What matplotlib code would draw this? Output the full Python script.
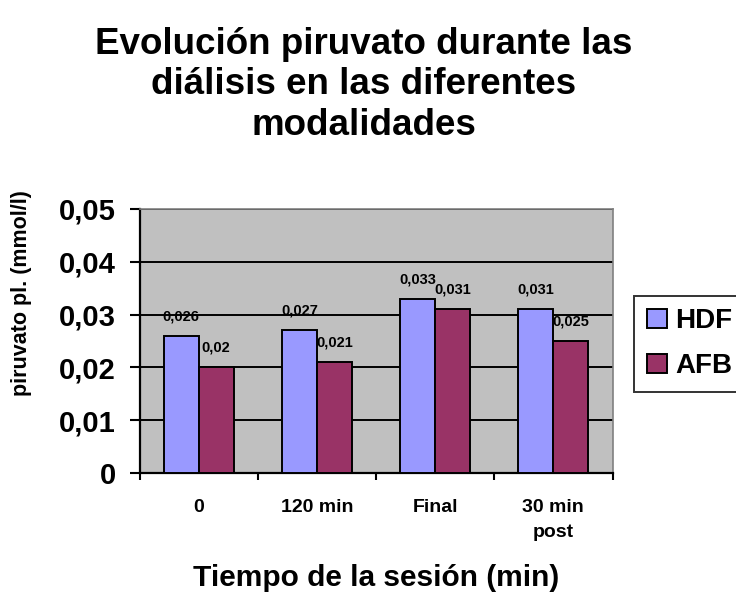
import numpy as np
import matplotlib.pyplot as plt

plt.rcParams['font.family'] = ['Liberation Sans', 'DejaVu Sans']
plt.rcParams['font.weight'] = 'bold'

categories = ["0", "120 min", "Final", "30 min\npost"]
hdf = [0.026, 0.027, 0.033, 0.031]
afb = [0.020, 0.021, 0.031, 0.025]
hdf_labels = ["0,026", "0,027", "0,033", "0,031"]
afb_labels = ["0,02", "0,021", "0,031", "0,025"]
yticks = [0, 0.01, 0.02, 0.03, 0.04, 0.05]
ytick_labels = ["0", "0,01", "0,02", "0,03", "0,04", "0,05"]

W, H = 736, 596
fig = plt.figure(figsize=(W / 100, H / 100), dpi=100)
ax = fig.add_axes([139.5 / W, 1 - 473 / H, 473 / W, 264 / H])
ax.set_facecolor("#C0C0C0")

x = np.arange(len(categories))
w = 0.295
b1 = ax.bar(x - w / 2, hdf, w, color="#9999FF", edgecolor="black", linewidth=1.4, label="HDF", zorder=3)
b2 = ax.bar(x + w / 2, afb, w, color="#993366", edgecolor="black", linewidth=1.4, label="AFB", zorder=3)

for xi, v, s in zip(x - w / 2, hdf, hdf_labels):
    ax.annotate(s, (xi, v), xytext=(0, 14), textcoords="offset points",
                ha="center", va="center", fontsize=10.5, fontweight="bold")
for xi, v, s in zip(x + w / 2, afb, afb_labels):
    ax.annotate(s, (xi, v), xytext=(0, 14), textcoords="offset points",
                ha="center", va="center", fontsize=10.5, fontweight="bold")

ax.set_xlim(-0.5, 3.5)
ax.set_ylim(0, 0.05)
ax.set_yticks(yticks)
ax.set_yticklabels(ytick_labels, fontsize=21, fontweight="bold")
ax.yaxis.grid(True, color="black", linewidth=1.4, zorder=0)
ax.set_axisbelow(True)

ax.set_xticks(x)
ax.set_xticklabels(categories, fontsize=14, fontweight="bold", linespacing=1.6)
ax.tick_params(axis="x", length=0, pad=19)
ax.set_xticks(np.arange(-0.5, 4.0, 1), minor=True)
ax.tick_params(axis="x", which="minor", length=5, width=1.5, direction="out")
ax.tick_params(axis="y", length=7, width=1.5, direction="out", pad=10)

for sp in ["top", "right"]:
    ax.spines[sp].set_color("#808080")
    ax.spines[sp].set_linewidth(1.2)
for sp in ["left", "bottom"]:
    ax.spines[sp].set_color("black")
    ax.spines[sp].set_linewidth(1.6)

fig.text(22 / W, 1 - 293 / H, "piruvato pl. (mmol/l)", rotation=90,
         ha="center", va="center", fontsize=15.5, fontweight="bold")
fig.text(376 / W, 1 - 578 / H, "Tiempo de la sesión (min)",
         ha="center", va="center", fontsize=21.5, fontweight="bold")

fig.text(364 / W, 1 - 85 / H,
         "Evolución piruvato durante las\ndiálisis en las diferentes\nmodalidades",
         ha="center", va="center", fontsize=26.5, fontweight="bold", linespacing=1.21)

leg = fig.legend(handles=[b1, b2], loc="upper left", bbox_to_anchor=(634 / W, 1 - 296 / H),
                 frameon=True, fancybox=False, edgecolor="black",
                 prop={"weight": "bold", "size": 20}, handlelength=0.72, handleheight=0.7,
                 handletextpad=0.32, borderpad=0.45, labelspacing=0.67, borderaxespad=0)
leg.get_frame().set_linewidth(1.4)

fig.savefig("out.png", dpi=100)
